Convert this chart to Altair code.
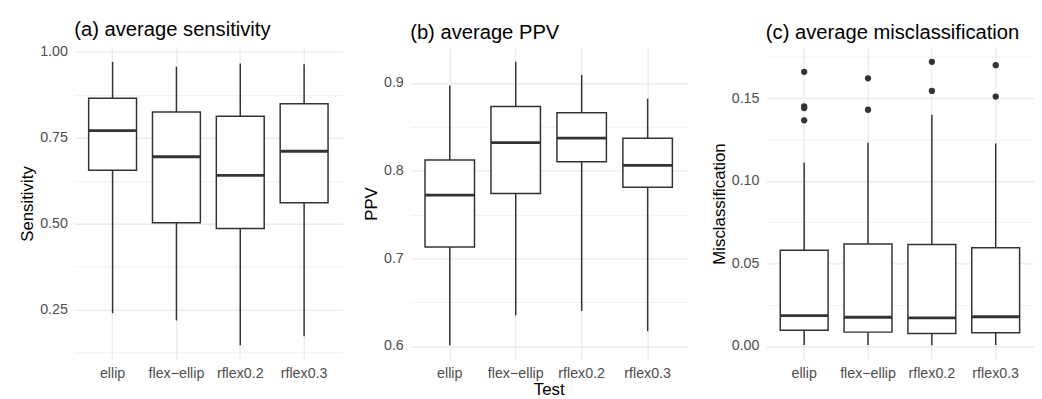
import altair as alt
import pandas as pd

tests = ["ellip", "flex\u2212ellip", "rflex0.2", "rflex0.3"]

# (a) sensitivity box statistics
sens_min = [0.240, 0.219, 0.147, 0.173]
sens_q1 = [0.656, 0.503, 0.486, 0.561]
sens_med = [0.771, 0.695, 0.641, 0.711]
sens_q3 = [0.865, 0.825, 0.813, 0.849]
sens_max = [0.971, 0.957, 0.966, 0.964]

# (b) PPV box statistics
ppv_min = [0.601, 0.635, 0.640, 0.617]
ppv_q1 = [0.713, 0.774, 0.810, 0.781]
ppv_med = [0.772, 0.832, 0.837, 0.806]
ppv_q3 = [0.812, 0.873, 0.866, 0.837]
ppv_max = [0.897, 0.924, 0.909, 0.882]

# (c) misclassification box statistics
mis_min = [0.0006, 0.0006, 0.0005, 0.0006]
mis_q1 = [0.0096, 0.0084, 0.0076, 0.0080]
mis_med = [0.0184, 0.0174, 0.0170, 0.0177]
mis_q3 = [0.0580, 0.0618, 0.0614, 0.0594]
mis_max = [0.111, 0.123, 0.140, 0.1226]
mis_out_test = ["ellip", "ellip", "ellip", "ellip", "flex\u2212ellip", "flex\u2212ellip",
                "rflex0.2", "rflex0.2", "rflex0.3", "rflex0.3"]
mis_out_val = [0.166, 0.145, 0.144, 0.1366, 0.162, 0.143, 0.172, 0.1544, 0.170, 0.151]

FONT = "Liberation Sans"
INK = "#333333"
HEIGHT = 315


def panel(mins, q1s, meds, q3s, maxs, title_letter, title_rest, ytitle, xtitle,
          mult, fmt, major, minor, width, out_test=None, out_val=None):
    df = pd.DataFrame({"test": tests, "lo": mins, "q1": q1s, "med": meds,
                       "q3": q3s, "hi": maxs})
    allv = list(mins) + list(maxs) + (list(out_val) if out_val else [])
    lo, hi = min(allv), max(allv)
    r = hi - lo
    domain = [lo - 0.05 * r, hi + 0.05 * r]
    is_major = f"abs(datum.value*{mult} - round(datum.value*{mult})) < 1e-6"
    yscale = alt.Scale(domain=domain, nice=False, zero=False)
    yaxis = alt.Axis(
        values=sorted(major + minor),
        labelExpr=f"{is_major} ? format(datum.value, '{fmt}') : ''",
        gridWidth={"condition": {"test": is_major, "value": 1.4}, "value": 0.7},
        title=ytitle, labelPadding=7, titlePadding=3,
    )
    xscale = alt.Scale(type="band", domain=tests, paddingInner=0.25, paddingOuter=0.225)
    xaxis = alt.Axis(title=xtitle, labelAngle=0, grid=True, gridWidth=1.4,
                     bandPosition=0.5, labelPadding=7, titlePadding=2)
    band = width / 4.2 * 0.75
    base = alt.Chart(df).encode(x=alt.X("test:N", scale=xscale, axis=xaxis, sort=tests))
    whisk = base.mark_rule(color=INK, strokeWidth=1.5).encode(
        y=alt.Y("lo:Q", scale=yscale, axis=yaxis), y2="hi:Q")
    box = base.mark_bar(fill="white", stroke=INK, strokeWidth=1.5).encode(
        y=alt.Y("q1:Q", scale=yscale), y2="q3:Q")
    med = base.mark_tick(color=INK, thickness=2.8, size=band, opacity=1).encode(
        y=alt.Y("med:Q", scale=yscale))
    layers = [whisk, box, med]
    if out_val:
        odf = pd.DataFrame({"test": out_test, "val": out_val})
        pts = alt.Chart(odf).mark_circle(size=40, color=INK, opacity=1).encode(
            x=alt.X("test:N", scale=xscale, sort=tests),
            y=alt.Y("val:Q", scale=yscale))
        layers.append(pts)
    return alt.layer(*layers).properties(
        width=width, height=HEIGHT,
        title=alt.TitleParams(text=f"({title_letter}) {title_rest}"),
    )


pa = panel(sens_min, sens_q1, sens_med, sens_q3, sens_max, "a", "average sensitivity",
           "Sensitivity", None, 4, ".2f", [0.25, 0.5, 0.75, 1.0],
           [0.125, 0.375, 0.625, 0.875], 271)
pb = panel(ppv_min, ppv_q1, ppv_med, ppv_q3, ppv_max, "b", "average PPV",
           "PPV", "Test", 10, ".1f", [0.6, 0.7, 0.8, 0.9],
           [0.65, 0.75, 0.85], 280)
pc = panel(mis_min, mis_q1, mis_med, mis_q3, mis_max, "c", "average misclassification",
           "Misclassification", None, 20, ".2f", [0.0, 0.05, 0.10, 0.15],
           [0.025, 0.075, 0.125, 0.175], 271, mis_out_test, mis_out_val)

chart = alt.hconcat(alt.hconcat(pa, pb, spacing=19.5), pc, spacing=22).properties(
    padding={"left": 10, "top": 9, "right": 0, "bottom": 0}
).configure_view(stroke=None).configure_axis(
    domain=False, ticks=False, labelFont=FONT, titleFont=FONT,
    labelColor="#4d4d4d", labelFontSize=14.4, titleFontSize=17,
    titleFontWeight="normal", titleColor="black", gridColor="#ebebeb",
).configure_title(
    font=FONT, fontSize=20.4, fontWeight="normal", anchor="start", frame="group",
    color="black", offset=4,
)

chart.save("out.html", embed_options={"renderer": "svg", "actions": False})
